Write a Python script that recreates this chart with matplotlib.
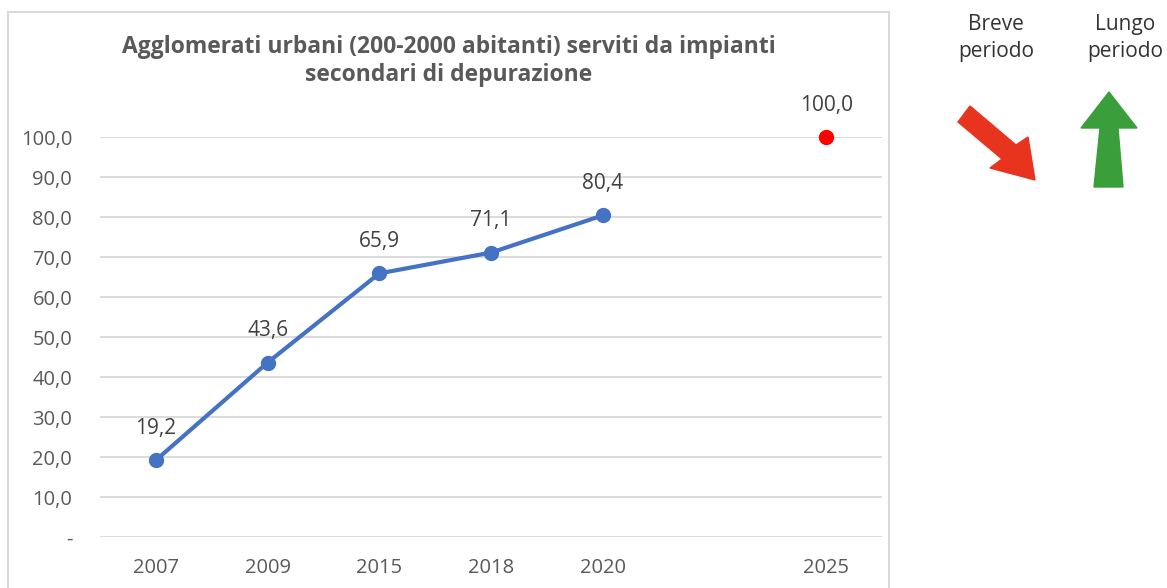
import matplotlib
matplotlib.use('Agg')
import matplotlib.pyplot as plt
from matplotlib.patches import Rectangle, Polygon

# data
years = ['2007', '2009', '2015', '2018', '2020', '', '2025']
values = [19.2, 43.6, 65.9, 71.1, 80.4]
target_year_idx = 6
target_value = 100.0
y_ticks = [0, 10, 20, 30, 40, 50, 60, 70, 80, 90, 100]

title = 'Agglomerati urbani (200-2000 abitanti) serviti da impianti\nsecondari di depurazione'
grey_txt = '#595959'
blue = '#4472C4'


def fmt(v):
    return '-' if v == 0 else ('%.1f' % v).replace('.', ',')


W, H = 1167, 588
fig = plt.figure(figsize=(W / 100, H / 100), dpi=100)

# chart border (bottom runs off the image)
fig.patches.append(Rectangle((8 / W, -0.05), (889 - 8) / W, (H - 12) / H + 0.05,
                             transform=fig.transFigure, fill=False,
                             edgecolor='#d9d9d9', linewidth=1.5))

ax = fig.add_axes([100 / W, (H - 537) / H, 782 / W, 400 / H])
x = list(range(len(values)))
ax.plot(x, values, color=blue, linewidth=3, marker='o', markersize=10,
        clip_on=False, zorder=3)
ax.plot([target_year_idx], [target_value], 'o', color='#FF0000',
        markersize=10, clip_on=False, zorder=3)

for xi, v in zip(x, values):
    ax.annotate(fmt(v), (xi, v), xytext=(0, 23), textcoords='offset points',
                ha='center', va='center', fontsize=15, color='#404040',
                family='Open Sans')
ax.annotate(fmt(target_value), (target_year_idx, target_value), xytext=(0, 23),
            textcoords='offset points', ha='center', va='center', fontsize=15,
            color='#404040', family='Open Sans')

ax.set_xlim(-0.5, len(years) - 0.5)
ax.set_ylim(0, 100)
ax.set_xticks(range(len(years)))
ax.set_xticklabels(years)
ax.set_yticks(y_ticks)
ax.set_yticklabels([fmt(v) for v in y_ticks])
ax.tick_params(axis='both', length=0, labelsize=14.5, labelcolor=grey_txt)
ax.tick_params(axis='x', pad=15)
ax.tick_params(axis='y', pad=20)
for lbl in ax.get_xticklabels() + ax.get_yticklabels():
    lbl.set_family('Open Sans')
ax.grid(axis='y', color='#d9d9d9', linewidth=1.3)
ax.set_axisbelow(True)
for s in ax.spines.values():
    s.set_visible(False)

fig.text(448.5 / W, 1 - 61 / H, title, ha='center', va='center', fontsize=16.5,
         fontweight='bold', color=grey_txt, family='Open Sans', linespacing=1.2)

# right-hand side: trend indicators
fig.text(996 / W, 1 - 38 / H, 'Breve\nperiodo', ha='center', va='center',
         fontsize=15, family='Open Sans', color='#333333', linespacing=1.4)
fig.text(1125 / W, 1 - 38 / H, 'Lungo\nperiodo', ha='center', va='center',
         fontsize=15, family='Open Sans', color='#333333', linespacing=1.4)

ov = fig.add_axes([0, 0, 1, 1])
ov.set_xlim(0, W)
ov.set_ylim(H, 0)
ov.axis('off')
red_arrow = [(970, 106), (1016, 145), (1028, 137), (1035, 180), (990, 168),
             (1002, 159), (958, 122)]
green_arrow = [(1109, 92), (1137, 128), (1118, 128), (1123, 187), (1094, 187),
               (1100, 128), (1081, 128)]
ov.add_patch(Polygon(red_arrow, closed=True, color='#E8341E'))
ov.add_patch(Polygon(green_arrow, closed=True, color='#3A9E3A'))

fig.savefig('out.png', dpi=100)
